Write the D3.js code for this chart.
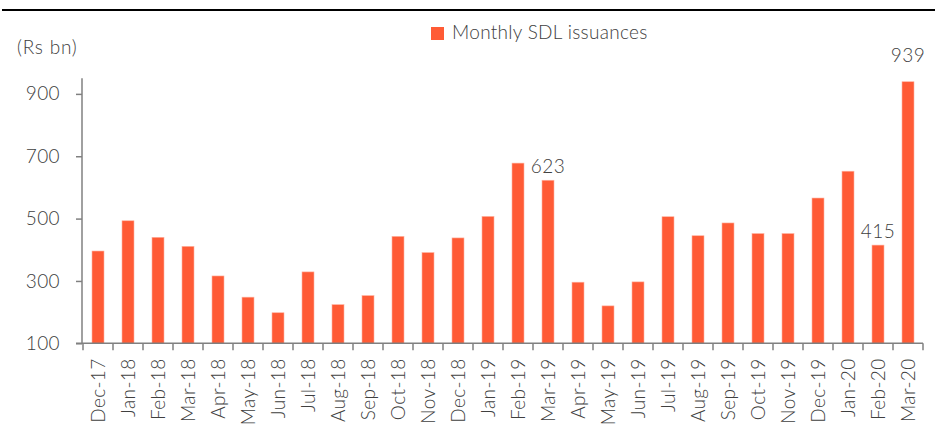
<!DOCTYPE html>
<html>
<head>
<meta charset="utf-8">
<script src="https://cdn.jsdelivr.net/npm/d3@7/dist/d3.min.js"></script>
<style>
  html, body { margin: 0; padding: 0; background: #fff; }
  svg { display: block; }
  svg text { font-family: "Lato", "Open Sans", sans-serif; font-weight: 300; }
  .axis path, .axis line { stroke: #808080; stroke-width: 1.5; }
  .axis text { fill: #404040; font-size: 19px; letter-spacing: 0.4px; }
</style>
</head>
<body>
<svg id="chart" width="935" height="437"></svg>
<script>
// Monthly state development loan issuances, Rs bn
const months = ["Dec-17","Jan-18","Feb-18","Mar-18","Apr-18","May-18","Jun-18","Jul-18",
  "Aug-18","Sep-18","Oct-18","Nov-18","Dec-18","Jan-19","Feb-19","Mar-19","Apr-19",
  "May-19","Jun-19","Jul-19","Aug-19","Sep-19","Oct-19","Nov-19","Dec-19","Jan-20",
  "Feb-20","Mar-20"];
const issuance = [396, 493, 440, 411, 316, 248, 198, 329, 224, 253, 443, 391, 438, 507,
  678, 623, 296, 220, 297, 506, 445, 486, 452, 452, 566, 652, 415, 939];
const yTicks = [100, 300, 500, 700, 900];
// months whose bars carry a value label
const labelled = ["Mar-19", "Feb-20", "Mar-20"];
const seriesName = "Monthly SDL issuances";
const unitLabel = "(Rs bn)";

const svg = d3.select("#chart");
const barColor = "#ff5b35";
const textColor = "#404040";

const x = d3.scaleBand().domain(months).range([83, 923]).paddingInner(0.6).paddingOuter(0.3);
const y = d3.scaleLinear().domain([100, 950]).range([343.3, 78.3]);

// top rule
svg.append("line").attr("x1", 2).attr("x2", 935).attr("y1", 10).attr("y2", 10)
  .attr("stroke", "#000").attr("stroke-width", 2);

// bars
svg.append("g").selectAll("rect").data(months).join("rect")
  .attr("x", (d) => x(d))
  .attr("width", x.bandwidth())
  .attr("y", (d, i) => y(issuance[i]))
  .attr("height", (d, i) => y(100) - y(issuance[i]))
  .attr("fill", barColor)
  .attr("stroke", "#ffb3a0").attr("stroke-width", 0.6);

// y axis
const yAxis = svg.append("g").attr("class", "axis").attr("transform", "translate(82,0)")
  .call(d3.axisLeft(y).tickValues(yTicks).tickSize(6).tickPadding(16).tickSizeOuter(0));
yAxis.select(".domain").attr("d", `M0,${y.range()[1]}V${y(100)}`);
yAxis.attr("font-family", null);

// x axis with ticks between categories
const xAxisG = svg.append("g").attr("class", "axis").attr("transform", `translate(0,${y(100)})`);
xAxisG.append("line").attr("x1", 76).attr("x2", 923).attr("y1", 0).attr("y2", 0);
const edges = d3.range(months.length + 1).map((i) => 83 + i * ((923 - 83) / months.length));
xAxisG.selectAll("line.tk").data(edges).join("line").attr("class", "tk")
  .attr("x1", (d) => d).attr("x2", (d) => d).attr("y1", 0).attr("y2", 7);
xAxisG.selectAll("text").data(months).join("text")
  .attr("transform", (d) => `translate(${x(d) + x.bandwidth() / 2 + 6.5},${15}) rotate(-90)`)
  .attr("text-anchor", "end")
  .text((d) => d);

// value labels
svg.append("g").selectAll("text").data(labelled).join("text")
  .attr("x", (d) => x(d) + x.bandwidth() / 2)
  .attr("y", (d) => {
    const v = issuance[months.indexOf(d)];
    return d === "Mar-20" ? y(v) - 20 : y(v) - 7;
  })
  .attr("text-anchor", "middle")
  .attr("fill", textColor).attr("font-size", 19).attr("letter-spacing", 0.4)
  .text((d) => issuance[months.indexOf(d)]);

// unit label
svg.append("text").attr("x", 17).attr("y", 54).attr("fill", textColor)
  .attr("font-size", 19).attr("letter-spacing", 0.8).text(unitLabel);

// legend
svg.append("rect").attr("x", 431).attr("y", 27).attr("width", 13).attr("height", 13).attr("fill", barColor);
svg.append("text").attr("x", 452).attr("y", 39).attr("fill", textColor)
  .attr("font-size", 19).attr("letter-spacing", 0.3).text(seriesName);
</script>
</body>
</html>
